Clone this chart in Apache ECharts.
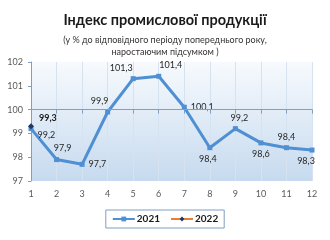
<!DOCTYPE html>
<html><head><meta charset="utf-8">
<script src="https://cdn.jsdelivr.net/npm/echarts@6/dist/echarts.min.js"></script>
<style>html,body{margin:0;padding:0;background:#fff}#c{width:330px;height:240px}</style>
</head><body><div id="c"></div>
<script>
const categories = ['1','2','3','4','5','6','7','8','9','10','11','12'];
const values2021 = [99.2, 97.9, 97.7, 99.9, 101.3, 101.4, 100.1, 98.4, 99.2, 98.6, 98.4, 98.3];
const values2022 = [99.3];
const labelPos2021 = ['right','top','right','top','top','top','right','bottom','top','bottom','top','bottom'];
const labelOff2021 = [[0,6],[6,0],[0,0],[-8,0],[-12,0],[12,0],[0,0],[-2,0],[4,0],[0,0],[0,0],[-6,0]];
const yTicks = [97, 98, 99, 100, 101, 102];

const chart = echarts.init(document.getElementById('c'));
const FONT = 'Lato';
chart.setOption({
  animation: false,
  title: [{
    text: 'Індекс промислової продукції',
    left: 'center', top: 8,
    textStyle: {fontFamily: FONT, fontSize: 14.5, fontWeight: 'bold', color: '#1a1a1a'}
  }, {
    text: '(у % до відповідного періоду попереднього року,',
    left: 'center', top: 31,
    textStyle: {fontFamily: FONT, fontSize: 9, fontWeight: 'normal', color: '#333'}
  }, {
    text: 'наростаючим підсумком )',
    left: 'center', top: 43,
    textStyle: {fontFamily: FONT, fontSize: 9, fontWeight: 'normal', color: '#333'}
  }],
  grid: {
    left: 31, right: 18, top: 62, bottom: 59, show: true, borderWidth: 0,
    backgroundColor: new echarts.graphic.LinearGradient(0, 0, 0, 1, [
      {offset: 0, color: '#f7fafd'}, {offset: 1, color: '#c6daef'}
    ])
  },
  legend: {
    bottom: 12, left: 'center',
    data: ['2021', '2022'],
    itemWidth: 22, itemHeight: 6, itemGap: 10,
    borderColor: '#7f9fc4', borderWidth: 1, padding: [4, 6],
    textStyle: {fontFamily: FONT, fontSize: 10, fontWeight: 'bold', color: '#1a1a1a', padding: [0,0,0,-3]}
  },
  xAxis: [{
    type: 'category', data: categories, boundaryGap: false,
    axisLine: {show: false}, axisTick: {show: false},
    axisLabel: {fontFamily: FONT, fontSize: 9, color: '#595959', margin: 9},
    splitLine: {show: true, lineStyle: {color: '#d6e2f0', width: 1}}
  }, {
    type: 'category', data: categories, boundaryGap: false, position: 'bottom', offset: -71.4,
    axisLine: {show: true, lineStyle: {color: '#7f9fc4', width: 1}},
    axisTick: {show: true, inside: false, length: 4, lineStyle: {color: '#7f9fc4'}},
    axisLabel: {show: false}
  }],
  yAxis: {
    type: 'value', min: 97, max: 102, interval: 1,
    axisLine: {show: true, lineStyle: {color: '#7f9fc4'}},
    axisTick: {show: true, length: 3, lineStyle: {color: '#7f9fc4'}},
    axisLabel: {fontFamily: FONT, fontSize: 9, color: '#595959', margin: 8, formatter: v => String(v)},
    splitLine: {show: false}
  },
  series: [{
    name: '2021', type: 'line', data: values2021.map((v, i) => ({
      value: v, label: {position: labelPos2021[i], offset: labelOff2021[i]}
    })),
    symbol: 'rect', symbolSize: 5,
    lineStyle: {color: '#4f8fd3', width: 3},
    itemStyle: {color: '#4f8fd3'},
    label: {show: true, fontFamily: FONT, fontSize: 9, color: '#262626', distance: 4,
      formatter: p => String(p.value).replace('.', ',')},
    markLine: {silent: true, symbol: 'none', label: {show: false},
      lineStyle: {color: '#7f9fc4', width: 1, type: 'solid'}, data: [{yAxis: 100}]},
    z: 2
  }, {
    name: '2022', type: 'line', data: values2022,
    symbol: 'diamond', symbolSize: 6,
    lineStyle: {color: '#ed7d31', width: 3},
    itemStyle: {color: '#1f3864'},
    label: {show: true, position: 'right', offset: [0, -8], fontFamily: FONT, fontSize: 9, fontWeight: 'bold', color: '#1a1a1a',
      formatter: p => String(p.value).replace('.', ',')},
    z: 3
  }]
});
</script></body></html>
